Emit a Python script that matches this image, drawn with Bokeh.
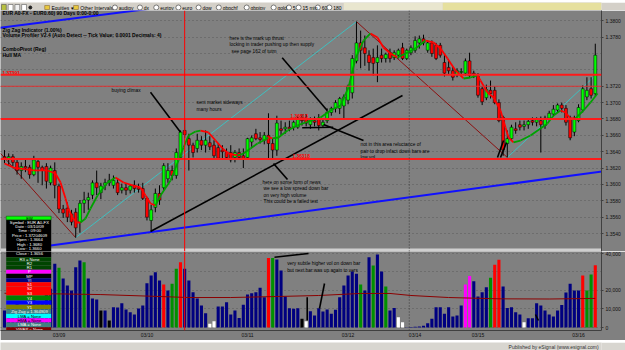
from bokeh.plotting import figure
from bokeh.layouts import column
from bokeh.models import Range1d, FixedTicker, NumeralTickFormatter, Span, Label
from bokeh.embed import file_html
from bokeh.resources import INLINE
from bokeh.core.properties import value

# ---------------- data (60-min EUR bars) ----------------
opens = [1.3634, 1.3632, 1.3634, 1.3627, 1.3617, 1.3622, 1.3621, 1.3612, 1.3628, 1.3621,
         1.3622, 1.3602, 1.3617, 1.3598, 1.3570, 1.3571, 1.3564, 1.3566, 1.3554, 1.3577,
         1.3581, 1.3587, 1.3602, 1.3590, 1.3599, 1.3602, 1.3599, 1.3602, 1.3593, 1.3596,
         1.3593, 1.3599, 1.3596, 1.3595, 1.3583, 1.3556, 1.3572, 1.3589, 1.3596, 1.3607,
         1.3617, 1.3611, 1.3633, 1.3666, 1.3656, 1.3648, 1.3644, 1.3654, 1.3648, 1.3651,
         1.3648, 1.3645, 1.3642, 1.3639, 1.3639, 1.3633, 1.3639, 1.3635, 1.3633, 1.3652,
         1.3662, 1.3657, 1.3654, 1.3660, 1.3650, 1.3642, 1.3668, 1.3668, 1.3670, 1.3670,
         1.3670, 1.3681, 1.3681, 1.3673, 1.3678, 1.3681, 1.3672, 1.3678, 1.3688, 1.3693,
         1.3693, 1.3696, 1.3703, 1.3712, 1.3751, 1.3773, 1.3767, 1.3758, 1.3755, 1.3749,
         1.3758, 1.3754, 1.3761, 1.3755, 1.3758, 1.3767, 1.3754, 1.3761, 1.3764, 1.3773,
         1.3778, 1.3764, 1.3773, 1.3770, 1.3770, 1.3749, 1.3743, 1.3739, 1.3734, 1.3737,
         1.3736, 1.3751, 1.3736, 1.3732, 1.3717, 1.3706, 1.3715, 1.3715, 1.3700, 1.3682,
         1.3650, 1.3656, 1.3668, 1.3673, 1.3671, 1.3673, 1.3678, 1.3676, 1.3678, 1.3672,
         1.3681, 1.3686, 1.3691, 1.3697, 1.3693, 1.3681, 1.3664, 1.3678, 1.3691, 1.3707,
         1.3717, 1.3711]
highs = [1.3642, 1.3638, 1.3637, 1.3631, 1.3627, 1.3630, 1.3624, 1.3635, 1.3632, 1.3623,
         1.3626, 1.3623, 1.3627, 1.3601, 1.3575, 1.3578, 1.3569, 1.3571, 1.3581, 1.3591,
         1.3590, 1.3605, 1.3617, 1.3602, 1.3607, 1.3613, 1.3611, 1.3607, 1.3601, 1.3601,
         1.3600, 1.3605, 1.3601, 1.3602, 1.3585, 1.3575, 1.3595, 1.3599, 1.3626, 1.3626,
         1.3623, 1.3644, 1.3666, 1.3681, 1.3662, 1.3651, 1.3662, 1.3659, 1.3666, 1.3659,
         1.3654, 1.3650, 1.3648, 1.3644, 1.3648, 1.3642, 1.3644, 1.3644, 1.3657, 1.3660,
         1.3668, 1.3664, 1.3664, 1.3687, 1.3656, 1.3684, 1.3678, 1.3676, 1.3678, 1.3678,
         1.3683, 1.3686, 1.3686, 1.3682, 1.3683, 1.3686, 1.3679, 1.3693, 1.3695, 1.3703,
         1.3707, 1.3710, 1.3722, 1.3758, 1.3799, 1.3788, 1.3782, 1.3764, 1.3766, 1.3770,
         1.3766, 1.3761, 1.3766, 1.3764, 1.3766, 1.3773, 1.3766, 1.3770, 1.3781, 1.3782,
         1.3783, 1.3776, 1.3776, 1.3773, 1.3773, 1.3758, 1.3751, 1.3744, 1.3742, 1.3742,
         1.3754, 1.3761, 1.3739, 1.3736, 1.3720, 1.3722, 1.3727, 1.3720, 1.3704, 1.3684,
         1.3666, 1.3673, 1.3676, 1.3678, 1.3678, 1.3681, 1.3682, 1.3682, 1.3683, 1.3684,
         1.3690, 1.3697, 1.3699, 1.3700, 1.3697, 1.3684, 1.3684, 1.3698, 1.3721, 1.3731,
         1.3731, 1.3772]
lows = [1.3626, 1.3623, 1.3622, 1.3612, 1.3607, 1.3615, 1.3607, 1.3610, 1.3602, 1.3599,
        1.3595, 1.3599, 1.3583, 1.3565, 1.3559, 1.3554, 1.3550, 1.3535, 1.3541, 1.3565,
        1.3569, 1.3582, 1.3587, 1.3582, 1.3593, 1.3598, 1.3595, 1.3587, 1.3589, 1.3587,
        1.3589, 1.3590, 1.3590, 1.3581, 1.3556, 1.3543, 1.3566, 1.3575, 1.3593, 1.3602,
        1.3605, 1.3607, 1.3630, 1.3657, 1.3617, 1.3633, 1.3639, 1.3642, 1.3639, 1.3642,
        1.3632, 1.3630, 1.3632, 1.3630, 1.3627, 1.3627, 1.3630, 1.3620, 1.3630, 1.3646,
        1.3654, 1.3650, 1.3649, 1.3630, 1.3632, 1.3635, 1.3660, 1.3662, 1.3665, 1.3666,
        1.3668, 1.3672, 1.3671, 1.3668, 1.3671, 1.3666, 1.3670, 1.3675, 1.3684, 1.3688,
        1.3686, 1.3681, 1.3698, 1.3705, 1.3748, 1.3742, 1.3745, 1.3739, 1.3733, 1.3725,
        1.3749, 1.3749, 1.3749, 1.3752, 1.3754, 1.3752, 1.3752, 1.3758, 1.3761, 1.3766,
        1.3770, 1.3761, 1.3756, 1.3752, 1.3755, 1.3732, 1.3734, 1.3727, 1.3731, 1.3732,
        1.3733, 1.3731, 1.3730, 1.3706, 1.3697, 1.3703, 1.3705, 1.3698, 1.3676, 1.3635,
        1.3633, 1.3654, 1.3662, 1.3666, 1.3666, 1.3668, 1.3672, 1.3671, 1.3639, 1.3668,
        1.3678, 1.3683, 1.3688, 1.3688, 1.3672, 1.3654, 1.3659, 1.3676, 1.3688, 1.3703,
        1.3705, 1.3708]
closes = [1.3632, 1.3634, 1.3627, 1.3617, 1.3622, 1.3620, 1.3612, 1.3630, 1.3621, 1.3617,
          1.3604, 1.3620, 1.3599, 1.3570, 1.3565, 1.3560, 1.3554, 1.3547, 1.3577, 1.3581,
          1.3584, 1.3602, 1.3596, 1.3598, 1.3602, 1.3605, 1.3605, 1.3590, 1.3596, 1.3593,
          1.3598, 1.3595, 1.3594, 1.3583, 1.3560, 1.3569, 1.3589, 1.3581, 1.3623, 1.3617,
          1.3611, 1.3639, 1.3664, 1.3661, 1.3648, 1.3639, 1.3654, 1.3648, 1.3654, 1.3646,
          1.3635, 1.3632, 1.3640, 1.3633, 1.3630, 1.3639, 1.3633, 1.3632, 1.3656, 1.3657,
          1.3656, 1.3655, 1.3660, 1.3650, 1.3642, 1.3675, 1.3666, 1.3670, 1.3668, 1.3676,
          1.3681, 1.3678, 1.3675, 1.3679, 1.3676, 1.3672, 1.3676, 1.3688, 1.3693, 1.3700,
          1.3705, 1.3707, 1.3720, 1.3754, 1.3773, 1.3764, 1.3760, 1.3749, 1.3748, 1.3755,
          1.3754, 1.3759, 1.3754, 1.3761, 1.3764, 1.3754, 1.3764, 1.3767, 1.3776, 1.3778,
          1.3773, 1.3773, 1.3760, 1.3754, 1.3758, 1.3736, 1.3739, 1.3731, 1.3739, 1.3738,
          1.3751, 1.3733, 1.3734, 1.3709, 1.3701, 1.3716, 1.3711, 1.3700, 1.3678, 1.3642,
          1.3656, 1.3670, 1.3666, 1.3670, 1.3673, 1.3677, 1.3676, 1.3679, 1.3673, 1.3681,
          1.3687, 1.3692, 1.3697, 1.3693, 1.3676, 1.3657, 1.3681, 1.3694, 1.3717, 1.3715,
          1.3709, 1.3758]
volumes = [9200, 10500, 12000, 14000, 11500, 9800, 13000, 16500, 12500, 14000,
           17500, 21000, 34400, 32300, 26500, 22700, 20000, 32600, 36200, 35300,
           26500, 15700, 15100, 9200, 9200, 3800, 11000, 10800, 13100, 9700,
           8300, 7000, 10300, 11900, 23900, 28100, 29900, 25400, 23200, 20000,
           23600, 31700, 35300, 31700, 25400, 19100, 15700, 11900, 7700, 2000,
           3400, 11400, 11400, 13700, 7000, 9200, 5200, 12300, 17800, 18500,
           19100, 21500, 16400, 37500, 37500, 36800, 30800, 16800, 10400, 10100,
           10400, 4700, 3400, 8800, 6500, 10400, 8600, 9700, 7400, 9600,
           16400, 22700, 28100, 30300, 29000, 23200, 20000, 38000, 33500, 39500,
           30300, 22200, 9200, 10600, 5600, 2900, 200, 300, 400, 600,
           1000, 2300, 4700, 11000, 11000, 7400, 11000, 5900, 6500, 11900,
           23200, 27900, 25000, 16800, 19100, 21800, 26900, 33900, 36600, 22200,
           10600, 11000, 8300, 7000, 2900, 5000, 5000, 13100, 11900, 9200,
           7000, 5900, 9200, 12100, 18900, 23600, 20000, 20000, 28100, 20000,
           28600, 33611]
vol_kind = list("nnnnnnnnnn" "nnngnnnnng" "nnnknknnnn" "nnnnnnnnrn" "ggrnnnnnnw"
                "wnnnnnnnnn" "nnnrgnnnnn" "nkwnnnnnnn" "nnnnngnngn" "ngnnwwnnnn"
                "nnnnnnnnnn" "mmnnnngrrn" "nnnnwnnnnn" "nnnnnnnnrg" "gr")
hma_idx = [0, 2.15, 6.92, 10.26, 12.17, 13.37, 14.56, 15.27, 16.23, 17.18, 18.14, 19.33,
           20.53, 22.2, 24.58, 26.49, 28.4, 30.79, 32.46, 33.65, 34.84, 36.04, 37.23, 39.62,
           41.53, 42.72, 43.91, 45.58, 46.78, 48.69, 50.36, 52.03, 53.46, 55.61, 57.04, 58.71,
           60.38, 61.81, 63.01, 63.96, 65.39, 67.54, 69.93, 71.84, 75.42, 77.8, 80.19, 82.1,
           83.77, 85.68, 87.35, 89.02, 90.45, 92.12, 93.79, 95.7, 98.09, 100.48, 102.39, 104.06,
           105.73, 107.64, 109.55, 111.22, 112.89, 113.6, 115.27, 116.71, 118.38, 119.57, 120.29,
           121.48, 123.15, 125.54, 127.92, 129.59, 131.03, 132.7, 133.89, 135.08, 136.28,
           138.19, 139.86, 141.53]
hma_val = [1.36256, 1.36207, 1.36171, 1.36171, 1.36134, 1.36024, 1.35828, 1.35706, 1.35596,
           1.35535, 1.35535, 1.35584, 1.35706, 1.35865, 1.36024, 1.36085, 1.36024, 1.35987,
           1.35963, 1.35865, 1.35767, 1.35743, 1.35865, 1.36048, 1.36293, 1.36452, 1.36598,
           1.36647, 1.36659, 1.36635, 1.36537, 1.36440, 1.36378, 1.36354, 1.36378, 1.36440,
           1.36501, 1.36537, 1.36574, 1.36562, 1.36574, 1.36659, 1.36721, 1.36757, 1.36818,
           1.36904, 1.36965, 1.37185, 1.37539, 1.37759, 1.37845, 1.37796, 1.37674, 1.37600,
           1.37552, 1.37600, 1.37662, 1.37759, 1.37735, 1.37662, 1.37539, 1.37393, 1.37295,
           1.37307, 1.37332, 1.37270, 1.37124, 1.37063, 1.36904, 1.36696, 1.36574, 1.36513,
           1.36537, 1.36598, 1.36684, 1.36745, 1.36843, 1.36904, 1.36879, 1.36806, 1.36806,
           1.36904, 1.37002, 1.37112]
zz_idx = [-0.95, 17, 84, 120, 141]
zz_val = [1.3638, 1.3535, 1.3799, 1.3633, 1.3733]
vma_idx = [0, 12, 23, 35, 44, 54, 66, 75, 85, 92, 97, 106, 118, 130, 141]
vma_val = [18500, 18200, 17800, 16900, 16200, 16200, 16800, 17300, 18400, 18400, 17300,
           16200, 15500, 15400, 15722.86]
thick_levels = [1.3734, 1.3680, 1.3631]
thin_levels = [1.3720]
level_texts = ["1.37391", "1.36813", "1.36318"]
price_grid = [1.3540, 1.3560, 1.3580, 1.3600, 1.3620, 1.3640, 1.3660, 1.3680, 1.3700,
              1.3720, 1.3740, 1.3760, 1.3780, 1.3800]
price_ticks = [1.3540, 1.3560, 1.3580, 1.3600, 1.3620, 1.3640, 1.3660, 1.3680, 1.3700,
               1.3720, 1.3780, 1.3800]
vol_grid = [0, 10000, 20000, 30000, 40000]
vol_ticks = [0, 10000, 20000, 40000]
date_pos = [13, 34, 58, 82, 98, 113, 137]
date_labels = ["03/09", "03/10", "03/11", "03/12", "03/14", "03/15", "03/16"]
price_tags = [("1.3758", 1.3758), ("1.37391", 1.3738), ("1.372458", 1.3725)]
vol_tags = [("33,611", 33611), ("15,722.86", 15722.86)]

# ---------------- helpers for overlay placement ----------------
FONT = "Liberation Sans"
BG = "#808080"
def px2i(x): return (x - 4.0) / 4.19
def py(y): return 1.38248 - 0.0001222 * y
def vy(y): return (327.0 - y) * 540.5

N = len(closes)
idx = list(range(N))
X0, X1 = px2i(0), px2i(601)

def txt(fig, xs, ys, texts, size="5px", color="#000000", align="left", style="normal"):
    fig.text(x=xs, y=ys, text=texts, text_font=value(FONT), text_font_size=size,
             text_color=color, text_align=align, text_baseline="middle", text_font_style=style)

# ---------------- toolbar strip ----------------
tb = figure(width=625, height=10, x_range=Range1d(0, 625), y_range=Range1d(10, 0),
            output_backend="svg", toolbar_location=None, x_axis_location=None,
            y_axis_location=None, min_border=0, background_fill_color="#d4d0c8",
            border_fill_color="#d4d0c8", outline_line_color=None)
tb.grid.visible = False
tb.quad(left=[357, 460], right=[460, 625], top=[0, 0], bottom=[10, 10],
        fill_color=["#e9e6cf", "#e6e09e"], line_color=None)
tb.quad(left=[1, 8, 15, 22], right=[6, 13, 20, 27], top=[2] * 4, bottom=[8] * 4,
        fill_color=["#b8c040", "#ffffff", "#f0f0f0", "#ffffff"], line_color="#404040", line_width=0.5)
tb.scatter([31], [5], size=3, color="#202020")
tb.quad(left=[46, 76], right=[51, 81], top=[3, 3], bottom=[7, 7],
        fill_color="#e8c840", line_color="#806020", line_width=0.5)
txt(tb, [53, 83], [5, 5], ["Equities \u25be", "Other Intervals \u25be"], size="5px")
clock_x = [119, 145, 162, 185, 206, 227, 256, 284, 300, 310, 330, 342]
clock_lab = ["audjpy", "dx", "eurjpy", "euro", "dow", "gbpchf", "gbpjpy", "gold", "5", "15 min", "60", "180"]
tb.scatter(clock_x, [5] * len(clock_x), size=5, fill_color="#ffffff", line_color="#303030", line_width=0.6)
txt(tb, [c + 4 for c in clock_x], [5] * len(clock_x), clock_lab, size="5px")

# ---------------- price panel ----------------
p = figure(width=625, height=241, x_range=Range1d(X0, X1), y_range=Range1d(py(251), py(10)),
           output_backend="svg", toolbar_location=None, y_axis_location="right",
           x_axis_location=None, min_border_left=0, min_border_right=24, min_border_top=0,
           min_border_bottom=0, background_fill_color=BG, border_fill_color=BG,
           outline_line_color=None)
p.xgrid.visible = False
p.ygrid[0].ticker = FixedTicker(ticks=price_grid)
p.ygrid.grid_line_color = "#5a5a5a"
p.ygrid.grid_line_dash = "1 3"
ax = p.yaxis[0]
ax.ticker = FixedTicker(ticks=price_ticks)
ax.formatter = NumeralTickFormatter(format="0.0000")
ax.major_label_text_font = FONT
ax.major_label_text_font_size = "5px"
ax.major_label_text_color = "#101010"
ax.major_label_standoff = 2
ax.major_tick_out = 2
ax.major_tick_in = 0
ax.minor_tick_line_color = None
ax.axis_line_color = "#404040"
ax.major_tick_line_color = "#404040"

# channel lines
p.line([-1, 143], [1.35172, 1.36161], color="#1010ff", line_width=2)
p.line([-1, 40], [1.37915, 1.38182], color="#1010ff", line_width=2)

# zigzag
for k in range(len(zz_idx) - 1):
    col = "#8b1010" if zz_val[k + 1] < zz_val[k] else "#3fbfbf"
    p.line(zz_idx[k:k + 2], zz_val[k:k + 2], color=col, line_width=1)

# levels
for lv in thick_levels:
    p.add_layout(Span(location=lv, dimension="width", line_color="#ff1a1a", line_width=2))
for lv in thin_levels:
    p.add_layout(Span(location=lv, dimension="width", line_color="#e03030", line_width=1))
p.add_layout(Span(location=43, dimension="height", line_color="#ff0000", line_width=1))
p.add_layout(Span(location=96.6, dimension="height", line_color="#3a3a3a", line_width=1, line_dash="1 2"))

# candles
body_top = [max(o, c) for o, c in zip(opens, closes)]
body_bot = [min(o, c) for o, c in zip(opens, closes)]
body_col = ["#00ff00" if c >= o else "#ff0000" for o, c in zip(opens, closes)]
p.segment(x0=idx, y0=highs, x1=idx, y1=lows, color="#000000", line_width=1)
p.vbar(x=idx, width=0.7, top=body_top, bottom=body_bot, fill_color=body_col,
       line_color="#000000", line_width=0.5)

# Hull MA coloured by direction
hx0, hy0, hx1, hy1, hcol = [], [], [], [], []
for k in range(len(hma_idx) - 1):
    hx0.append(hma_idx[k]); hy0.append(hma_val[k])
    hx1.append(hma_idx[k + 1]); hy1.append(hma_val[k + 1])
    hcol.append("#00a000" if hma_val[k + 1] > hma_val[k] else "#ff0000")
p.segment(x0=hx0, y0=hy0, x1=hx1, y1=hy1, color=hcol, line_width=1.8)

# user annotation lines
ann_px = [[(150, 91.7), (180, 131.7)], [(150, 231), (402, 95)], [(273, 163), (287, 179)],
          [(281.7, 57.3), (326.7, 110)], [(301.7, 127.3), (332.7, 126.7)],
          [(323, 124), (363, 140)], [(497, 157), (503, 140)], [(500, 157), (506, 142)]]
p.multi_line(xs=[[px2i(a[0]), px2i(b[0])] for a, b in ann_px],
             ys=[[py(a[1]), py(b[1])] for a, b in ann_px], color="#000000", line_width=1.6)

# separator strip
p.quad(left=[X0 - 1], right=[X1 + 1], bottom=[py(252)], top=[py(248)], fill_color="#cfcfcf", line_color=None)

# titles
txt(p, [px2i(2)] * 5, [py(12.3), py(29.3), py(34.8), py(48.7), py(54)],
    ["EUR A0-FX - EUR0.60) 90 Days 0:00-0:00", "Zig Zag Indicator (1.00%)",
     "Volume Profiler V2.4 (Auto Detect -- Tick Value: 0.0001 Decimals: 4)",
     "ComboPivot (Reg)", "Hull MA"], size="5px", style="bold")
# level labels
txt(p, [px2i(2), px2i(290), px2i(292)], [py(72), py(115.5), py(155.5)], level_texts,
    size="4.8px", color="#ff0000", style="bold")
# annotation texts
ann_t = [(111, 90, "buying climax"), (196, 102, "sent market sideways"), (196, 108.5, "many hours"),
         (229, 37.5, "here is the mark up thrust"),
         (229, 44, "locking in trader pushing up then supply"),
         (231, 50.5, " see page 162 of tutm"),
         (360, 144, "not in this area reluctance of"),
         (360, 150.5, "pair to drop infact down bars are"), (360, 156.5, "low vol"),
         (262, 182, "here on some form of news"), (263, 188, " we see a low spread down bar"),
         (263, 194.5, "on very high volume"), (263, 200.5, "This could be a failed test")]
txt(p, [px2i(a[0]) for a in ann_t], [py(a[1]) for a in ann_t], [a[2] for a in ann_t], size="4.8px")

# data window (price part)
dw0, dw1, dwc = px2i(5.7), px2i(50.7), px2i(29)
p.quad(left=[dw0], right=[dw1], top=[py(219.3)], bottom=[py(260)], fill_color="#000000", line_color=None)
p.quad(left=[dw0], right=[dw1], top=[py(215.7)], bottom=[py(219.3)], fill_color="#00ff00",
       line_color="#005000", line_width=0.5)
txt(p, [dwc], [py(217.5)], ["EW"], size="4px", align="center")
info = ["Symbol : EUR A0-FX", "Date : 03/10/09", "Time : 09:00", "Price : 1.37204609",
        "Open : 1.3664", "High : 1.3680", "Low : 1.3660", "Close : 1.3656"]
info_y = [221.6, 226.0, 230.4, 234.8, 239.2, 243.6, 248.0, 253.3]
txt(p, [dwc] * 7, [py(y) for y in info_y[:7]], info[:7], size="4.2px", color="#ffffff", align="center")

for t, yv in price_tags:
    p.add_layout(Label(x=X1 + 0.35, y=yv, text=t, text_font=FONT, text_font_size="5px",
                       text_baseline="middle", text_color="#000000", background_fill_color="#ffffff",
                       border_line_color="#303030", border_line_width=0.5, padding=1))

# ---------------- volume panel ----------------
v = figure(width=625, height=89, x_range=p.x_range, y_range=Range1d(vy(330), vy(251)),
           output_backend="svg", toolbar_location=None, y_axis_location="right",
           min_border_left=0, min_border_right=24, min_border_top=0, min_border_bottom=10,
           background_fill_color=BG, border_fill_color=BG, outline_line_color=None)
v.xgrid.visible = False
v.ygrid[0].ticker = FixedTicker(ticks=vol_grid)
v.ygrid.grid_line_color = "#5a5a5a"
v.ygrid.grid_line_dash = "1 3"
va = v.yaxis[0]
va.ticker = FixedTicker(ticks=vol_ticks)
va.formatter = NumeralTickFormatter(format="0,0")
for a in (va, v.xaxis[0]):
    a.major_label_text_font = FONT
    a.major_label_text_font_size = "5px"
    a.major_label_text_color = "#101010"
    a.minor_tick_line_color = None
    a.minor_tick_out = 0
    a.axis_line_color = "#404040"
va.major_label_standoff = 2
va.major_tick_out = 2
va.major_tick_in = 0
va.major_tick_line_color = "#404040"
xa = v.xaxis[0]
xa.ticker = FixedTicker(ticks=date_pos)
xa.major_label_overrides = {pos: lab for pos, lab in zip(date_pos, date_labels)}
xa.major_tick_line_color = None
xa.major_tick_out = 0
xa.major_tick_in = 0
xa.major_label_standoff = 1

VC = {"n": "#000080", "g": "#009000", "r": "#ff0000", "k": "#000000", "w": "#ffffff", "m": "#ff00ff"}
v.vbar(x=idx, width=0.74, top=volumes, bottom=0, fill_color=[VC[k] for k in vol_kind], line_color=None)
v.line(vma_idx, vma_val, color="#8b0000", line_width=1)
v.add_layout(Span(location=43, dimension="height", line_color="#ff0000", line_width=1))
v.add_layout(Span(location=96.6, dimension="height", line_color="#3a3a3a", line_width=1, line_dash="1 2"))

vann = [[(274, 256.7), (308, 253)], [(306.7, 296.7), (306.7, 320)], [(324, 283), (319, 308)],
        [(535, 314), (538, 320)]]
v.multi_line(xs=[[px2i(a[0]), px2i(b[0])] for a, b in vann],
             ys=[[vy(a[1]), vy(b[1])] for a, b in vann], color="#000000", line_width=1.6)
txt(v, [px2i(286.7)] * 2, [vy(263.3), vy(270)],
    ["very subtle higher vol on down bar", "but next bar was up again to vers"], size="4.8px")

# data window (volume part)
v.quad(left=[dw0], right=[dw1], top=[vy(249)], bottom=[vy(256.7)], fill_color="#000000", line_color=None)
txt(v, [dwc], [vy(info_y[7])], [info[7]], size="4.2px", color="#ffffff", align="center")
rows = [("R3 = None", 256.7, 260.9, "#004400", "#ffffff"), ("R2", 260.9, 265.1, "#004400", "#ffffff"),
        ("R1", 265.1, 269.3, "#004400", "#ffffff"), ("P", 269.3, 273.3, "#ff00ff", "#ffffff"),
        ("MP", 273.3, 277.7, "#000000", "#ffffff"), ("YI", 277.7, 281.7, "#000080", "#ffffff"),
        ("S1", 281.7, 286.1, "#ff0000", "#ffffff"), ("S2", 286.1, 290.5, "#ff0000", "#ffffff"),
        ("S3", 290.5, 295.0, "#ff0000", "#ffffff"), ("Y4", 295.0, 300.0, "#008000", "#ffffff"),
        ("Y3", 300.0, 304.3, "#0000ff", "#ffffff"), ("Y1", 304.3, 308.7, "#808000", "#ffffff"),
        ("Zig Zag = 1.364909", 308.7, 313.3, "#408080", "#ffffff"),
        ("LMA = None", 313.3, 317.7, "#00ffff", "#000000"), ("HMA = None", 317.7, 322.0, "#ff00ff", "#000000"),
        ("LMA = None", 322.0, 326.7, "#408080", "#ffffff"), ("VWAP = None", 326.7, 331.5, "#800000", "#ffffff")]
v.quad(left=[dw0] * len(rows), right=[dw1] * len(rows), top=[vy(r[1]) for r in rows],
       bottom=[vy(r[2]) for r in rows], fill_color=[r[3] for r in rows], line_color=None)
v.text(x=[dwc] * len(rows), y=[vy((r[1] + r[2]) / 2) for r in rows], text=[r[0] for r in rows],
       text_color=[r[4] for r in rows], text_font=value(FONT), text_font_size="4.2px",
       text_align="center", text_baseline="middle")

for t, yv in vol_tags:
    v.add_layout(Label(x=X1 + 0.35, y=yv, text=t, text_font=FONT, text_font_size="5px",
                       text_baseline="middle", text_color="#000000", background_fill_color="#ffffff",
                       border_line_color="#303030", border_line_width=0.5, padding=1))

# ---------------- footer ----------------
ft = figure(width=625, height=10, x_range=Range1d(0, 625), y_range=Range1d(10, 0),
            output_backend="svg", toolbar_location=None, x_axis_location=None,
            y_axis_location=None, min_border=0, background_fill_color="#d8d6d0",
            border_fill_color="#d8d6d0", outline_line_color=None)
ft.grid.visible = False
txt(ft, [622], [4.0], ["Published by eSignal (www.esignal.com)"], size="5px", color="#303030", align="right")

layout = column(tb, p, v, ft, spacing=0)
open("out.html", "w").write(file_html(layout, INLINE))
